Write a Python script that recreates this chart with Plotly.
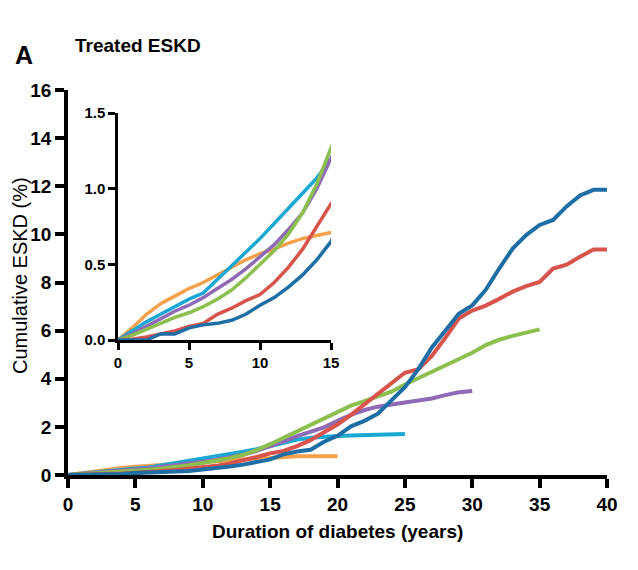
import plotly.graph_objects as go

# ---- data (cumulative ESKD %, by year of diabetes duration) ----
blue_y = [0, 0, 0, 0.04, 0.04, 0.08, 0.10, 0.11, 0.13, 0.17, 0.23, 0.28, 0.35, 0.43, 0.53, 0.65,
          0.86, 0.98, 1.05, 1.38, 1.63, 2.02, 2.25, 2.55, 3.10, 3.65, 4.40, 5.30, 6.00, 6.70, 7.05,
          7.70, 8.58, 9.41, 9.97, 10.39, 10.60, 11.16, 11.62, 11.85, 11.85]
red_y = [0, 0.005, 0.02, 0.04, 0.06, 0.09, 0.11, 0.17, 0.21, 0.26, 0.30, 0.38, 0.48, 0.60, 0.75, 0.90,
         1.00, 1.20, 1.45, 1.78, 2.10, 2.50, 2.93, 3.35, 3.80, 4.25, 4.40, 4.95, 5.70, 6.50, 6.83,
         7.04, 7.32, 7.62, 7.85, 8.02, 8.58, 8.74, 9.07, 9.37, 9.37]
green_y = [0, 0.03, 0.07, 0.11, 0.15, 0.18, 0.22, 0.27, 0.33, 0.41, 0.50, 0.59, 0.70, 0.84, 1.03, 1.28,
           1.55, 1.82, 2.08, 2.38, 2.65, 2.88, 3.07, 3.26, 3.46, 3.76, 4.02, 4.30, 4.52, 4.80, 5.08,
           5.40, 5.62, 5.78, 5.92, 6.05]
purple_y = [0, 0.04, 0.09, 0.14, 0.19, 0.23, 0.28, 0.34, 0.40, 0.47, 0.55, 0.63, 0.73, 0.84, 1.00, 1.19,
            1.40, 1.62, 1.80, 1.98, 2.25, 2.50, 2.70, 2.84, 2.93, 3.02, 3.07, 3.18, 3.32, 3.44, 3.49]
cyan_y = [0, 0.06, 0.12, 0.17, 0.22, 0.27, 0.31, 0.40, 0.49, 0.58, 0.67, 0.77, 0.87, 0.97, 1.07, 1.20,
          1.35, 1.47, 1.55, 1.60, 1.62, 1.64, 1.66, 1.67, 1.69, 1.70]
orange_y = [0, 0.08, 0.17, 0.24, 0.29, 0.34, 0.38, 0.43, 0.48, 0.53, 0.57, 0.60, 0.64, 0.67, 0.69, 0.71,
            0.76, 0.78, 0.78, 0.78, 0.78]

series = [
    ("orange", orange_y, "#f5a04c"),
    ("cyan", cyan_y, "#1ba7d3"),
    ("purple", purple_y, "#8e6bb4"),
    ("green", green_y, "#8cbf4e"),
    ("red", red_y, "#d8534b"),
    ("blue", blue_y, "#1e6ea6"),
]

main_x_ticks = [0, 5, 10, 15, 20, 25, 30, 35, 40]
main_y_ticks = [0, 2, 4, 6, 8, 10, 12, 14, 16]
inset_x_ticks = [0, 5, 10, 15]
inset_y_ticks = [0.0, 0.5, 1.0, 1.5]
inset_y_labels = ["0.0", "0.5", "1.0", "1.5"]

fig = go.Figure()
for name, ys, col in series:
    xs = list(range(len(ys)))
    fig.add_trace(go.Scatter(x=xs, y=ys, mode="lines", name=name,
                             line=dict(color=col, width=4), xaxis="x", yaxis="y",
                             showlegend=False))
for name, ys, col in series:
    xs = list(range(len(ys)))
    fig.add_trace(go.Scatter(x=xs, y=ys, mode="lines", name=name,
                             line=dict(color=col, width=3.5), xaxis="x2", yaxis="y2",
                             showlegend=False))

OFF = 8  # page body margin
W, H = 638, 570
# target screen positions of main plot area
SX0, SX1, SY0, SY1 = 68, 607, 90, 475
L = SX0 - OFF
R = W - (SX1 - OFF)
T = SY0 - OFF
B = H - (SY1 - OFF)
pw, ph = SX1 - SX0, SY1 - SY0

def px(xs):
    return (xs - SX0) / pw

def py(ys):
    return (SY1 - ys) / ph

FAM = "Liberation Sans, Arial, sans-serif"
font_main = dict(family=FAM, size=19, color="black", weight="bold")
font_inset = dict(family=FAM, size=15, color="black", weight="bold")

fig.update_layout(
    width=W, height=H,
    margin=dict(l=L, r=R, t=T, b=B),
    paper_bgcolor="white", plot_bgcolor="white",
    xaxis=dict(range=[0, 40], tickvals=main_x_ticks, showgrid=False, zeroline=False,
               showline=True, linecolor="black", linewidth=3.5, ticks="outside",
               ticklen=9, tickwidth=3.5, tickcolor="black", tickfont=font_main,
               domain=[0, 1]),
    yaxis=dict(range=[0, 16], tickvals=main_y_ticks, showgrid=False, zeroline=False,
               showline=True, linecolor="black", linewidth=3.5, ticks="outside",
               ticklen=9, tickwidth=3.5, tickcolor="black", tickfont=font_main,
               domain=[0, 1]),
    xaxis2=dict(range=[0, 15], tickvals=inset_x_ticks, showgrid=False, zeroline=False,
                showline=True, linecolor="black", linewidth=2.5, ticks="outside",
                ticklen=7, tickwidth=2.5, tickcolor="black", tickfont=font_inset,
                domain=[px(118), px(331)], anchor="y2"),
    yaxis2=dict(range=[0, 1.5], tickvals=inset_y_ticks, ticktext=inset_y_labels,
                showgrid=False, zeroline=False,
                showline=True, linecolor="black", linewidth=2.5, ticks="outside",
                ticklen=7, tickwidth=2.5, tickcolor="black", tickfont=font_inset,
                domain=[py(340), py(113)], anchor="x2"),
    annotations=[
        dict(text="<b>A</b>", x=px(13), y=py(55), xref="paper", yref="paper",
             xanchor="left", yanchor="middle", showarrow=False,
             font=dict(family=FAM, size=25, color="black")),
        dict(text="<b>Treated ESKD</b>", x=px(73), y=py(45), xref="paper", yref="paper",
             xanchor="left", yanchor="middle", showarrow=False,
             font=dict(family=FAM, size=19, color="black")),
        dict(text="Cumulative ESKD (%)", x=px(20), y=py(276), xref="paper", yref="paper",
             xanchor="center", yanchor="middle", showarrow=False, textangle=-90,
             font=dict(family=FAM, size=20, color="black")),
        dict(text="<b>Duration of diabetes (years)</b>", x=px(337), y=py(531), xref="paper", yref="paper",
             xanchor="center", yanchor="middle", showarrow=False,
             font=dict(family=FAM, size=19, color="black")),
    ],
)

fig.write_html("out.html")
